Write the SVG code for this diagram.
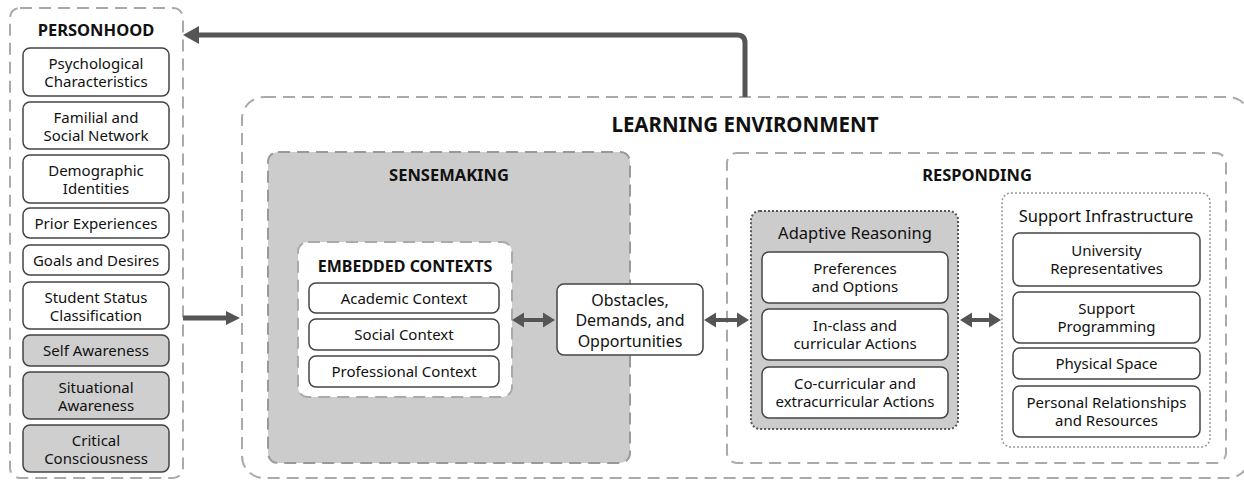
<svg xmlns="http://www.w3.org/2000/svg" width="1244" height="483" viewBox="0 0 1244 483">
<style>
text{font-family:"Noto Sans","Open Sans","DejaVu Sans",sans-serif;fill:#111;text-anchor:middle}
.t{font-size:15px}
.tm{font-size:16.5px}
.to{font-size:16px}
.h{font-size:16.5px;font-weight:700}
.hl{font-size:20.5px;font-weight:700}
.box{fill:#fff;stroke:#444;stroke-width:1.5}
.gbox{fill:#cfcfcf;stroke:#444;stroke-width:1.5}
.dash{fill:#fff;stroke:#aaa;stroke-width:2;stroke-dasharray:12 7}
.gdash{fill:#cccccc;stroke:#999;stroke-width:2;stroke-dasharray:12 7}
.dotd{fill:#cccccc;stroke:#555;stroke-width:2;stroke-dasharray:2 2}
.dotl{fill:#fff;stroke:#999;stroke-width:1.5;stroke-dasharray:2 2}
.arr{fill:#555}
</style>
<rect width="1244" height="483" fill="#fff"/>

<g id="learning-environment">
<rect class="dash" x="242" y="97" width="1008" height="381" rx="22"/>
<text class="hl" x="745" y="132">LEARNING ENVIRONMENT</text>
</g>

<g id="personhood">
<rect class="dash" x="10" y="8" width="173" height="470" rx="10"/>
<text class="h" x="96" y="36">PERSONHOOD</text>
</g>
<g id="psychological"><rect class="box" x="23" y="48" width="146" height="48" rx="7"/><text class="t" x="96" y="69">Psychological</text><text class="t" x="96" y="87">Characteristics</text></g>
<g id="familial"><rect class="box" x="23" y="102" width="146" height="47" rx="7"/><text class="t" x="96" y="122.5">Familial and</text><text class="t" x="96" y="140.5">Social Network</text></g>
<g id="demographic"><rect class="box" x="23" y="155" width="146" height="48" rx="7"/><text class="t" x="96" y="176">Demographic</text><text class="t" x="96" y="194">Identities</text></g>
<g id="prior"><rect class="box" x="23" y="208" width="146" height="30" rx="7"/><text class="t" x="96" y="228.5">Prior Experiences</text></g>
<g id="goals"><rect class="box" x="23" y="245" width="146" height="30" rx="7"/><text class="t" x="96" y="265.5">Goals and Desires</text></g>
<g id="student-status"><rect class="box" x="23" y="282" width="146" height="47" rx="7"/><text class="t" x="96" y="302.5">Student Status</text><text class="t" x="96" y="320.5">Classification</text></g>
<g id="self-awareness"><rect class="gbox" x="23" y="335" width="146" height="31" rx="7"/><text class="t" x="96" y="355.5">Self Awareness</text></g>
<g id="situational"><rect class="gbox" x="23" y="372" width="146" height="47" rx="7"/><text class="t" x="96" y="392.5">Situational</text><text class="t" x="96" y="410.5">Awareness</text></g>
<g id="critical"><rect class="gbox" x="23" y="425" width="146" height="47" rx="7"/><text class="t" x="96" y="445.5">Critical</text><text class="t" x="96" y="463.5">Consciousness</text></g>

<g id="sensemaking">
<rect class="gdash" x="268" y="152" width="362" height="311" rx="10"/>
<text class="h" x="449" y="181">SENSEMAKING</text>
</g>
<g id="embedded-contexts">
<rect class="dash" x="298" y="242" width="214" height="155" rx="10"/>
<text class="h" x="405" y="272" style="font-size:16px">EMBEDDED CONTEXTS</text>
</g>
<g id="academic"><rect class="box" x="309" y="283" width="190" height="30" rx="7"/><text class="t" x="404" y="303.5">Academic Context</text></g>
<g id="social"><rect class="box" x="309" y="319" width="190" height="31" rx="7"/><text class="t" x="404" y="340">Social Context</text></g>
<g id="professional"><rect class="box" x="309" y="356" width="190" height="31" rx="7"/><text class="t" x="404" y="377">Professional Context</text></g>

<g id="obstacles"><rect class="box" x="557" y="284" width="146" height="71" rx="7"/>
<text class="to" x="630" y="305.5">Obstacles,</text><text class="to" x="630" y="326">Demands, and</text><text class="to" x="630" y="346.5">Opportunities</text></g>

<g id="responding">
<rect class="dash" x="727" y="153" width="499" height="310" rx="10"/>
<text class="h" x="977" y="181">RESPONDING</text>
</g>
<g id="adaptive-reasoning">
<rect class="dotd" x="751" y="211" width="207" height="218" rx="9"/>
<text class="tm" x="855" y="239">Adaptive Reasoning</text>
</g>
<g id="preferences"><rect class="box" x="762" y="252" width="186" height="51" rx="7"/><text class="t" x="855" y="273.5">Preferences</text><text class="t" x="855" y="292">and Options</text></g>
<g id="in-class"><rect class="box" x="762" y="309" width="186" height="51" rx="7"/><text class="t" x="855" y="330.5">In-class and</text><text class="t" x="855" y="349">curricular Actions</text></g>
<g id="co-curricular"><rect class="box" x="762" y="367" width="186" height="51" rx="7"/><text class="t" x="855" y="388.5">Co-curricular and</text><text class="t" x="855" y="407">extracurricular Actions</text></g>

<g id="support-infrastructure">
<rect class="dotl" x="1002" y="193" width="208" height="254" rx="9"/>
<text class="tm" x="1106" y="222">Support Infrastructure</text>
</g>
<g id="university"><rect class="box" x="1013" y="233" width="187" height="53" rx="7"/><text class="t" x="1106.5" y="255.5">University</text><text class="t" x="1106.5" y="274">Representatives</text></g>
<g id="support-programming"><rect class="box" x="1013" y="292" width="187" height="51" rx="7"/><text class="t" x="1106.5" y="313.5">Support</text><text class="t" x="1106.5" y="332">Programming</text></g>
<g id="physical-space"><rect class="box" x="1013" y="348" width="187" height="31" rx="7"/><text class="t" x="1106.5" y="369">Physical Space</text></g>
<g id="personal-relationships"><rect class="box" x="1013" y="386" width="187" height="51" rx="7"/><text class="t" x="1106.5" y="407.5">Personal Relationships</text><text class="t" x="1106.5" y="426">and Resources</text></g>

<g id="connectors">
<path d="M745,97 V43 Q745,35 737,35 H198" fill="none" stroke="#555" stroke-width="5"/>
<polygon class="arr" points="183,35 199,26 199,44"/>
<polygon class="arr" points="183,315.5 226,315.5 226,311 240,318 226,325 226,320.5 183,320.5"/>
<polygon class="arr" points="512,320 524,312.5 524,318 543,318 543,312.5 555,320 543,327.5 543,322 524,322 524,327.5"/>
<polygon class="arr" points="704,320 716,312.5 716,318 737,318 737,312.5 749,320 737,327.5 737,322 716,322 716,327.5"/>
<polygon class="arr" points="960,320 972,312.5 972,318 989,318 989,312.5 1001,320 989,327.5 989,322 972,322 972,327.5"/>
</g>
</svg>
